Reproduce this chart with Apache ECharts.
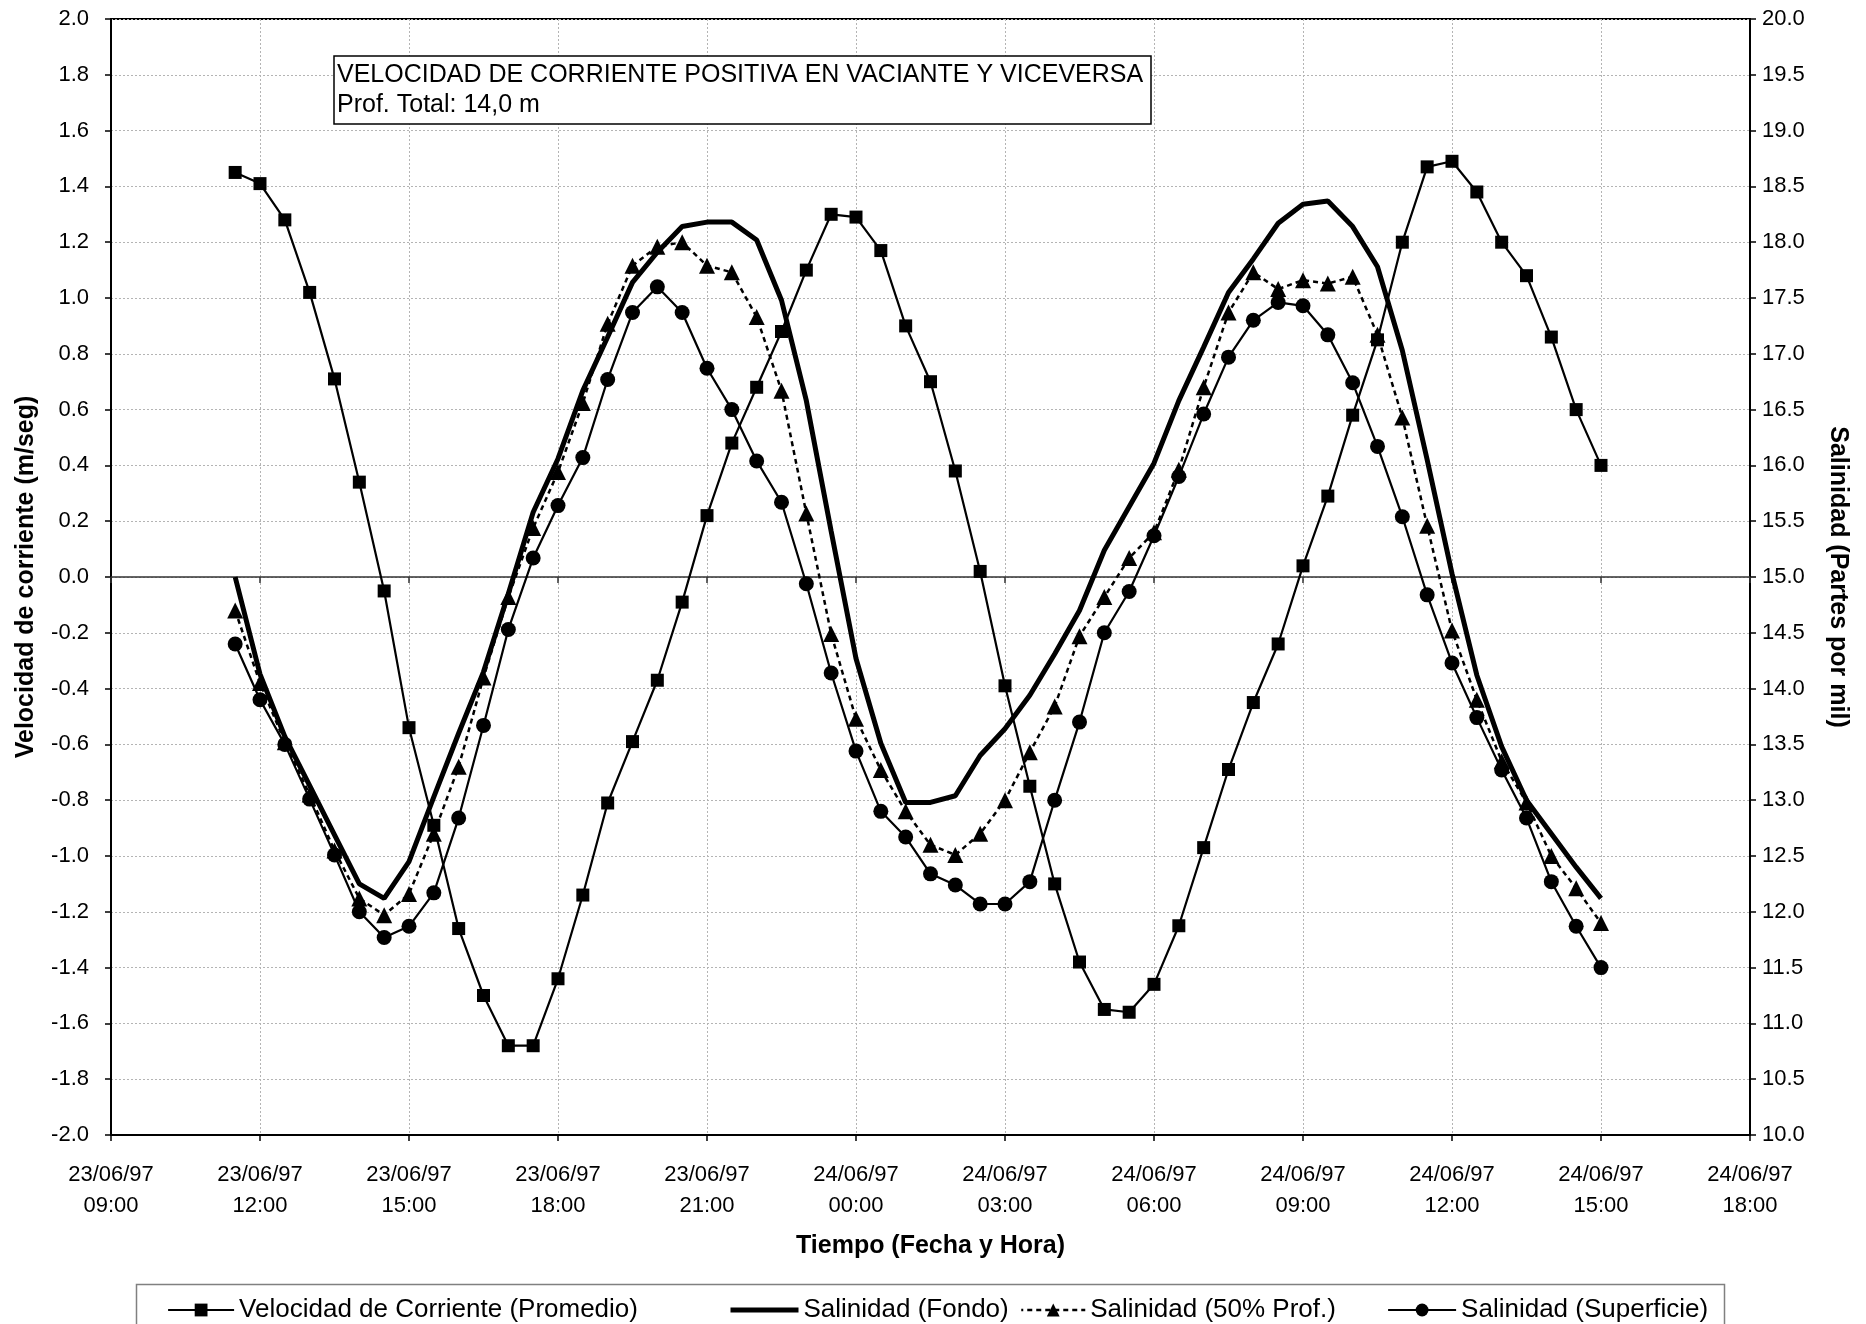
<!DOCTYPE html>
<html>
<head>
<meta charset="utf-8">
<title>Velocidad de corriente y salinidad</title>
<script src="https://cdn.jsdelivr.net/npm/echarts@6/dist/echarts.min.js"></script>
<style>
  html, body { margin: 0; padding: 0; background: #fff; }
  #chart { width: 1866px; height: 1324px; }
</style>
</head>
<body>
<div id="chart"></div>
<script>
// Sampling times (every half hour)
const tiempos = [
  '23/06/97 11:30', '23/06/97 12:00', '23/06/97 12:30', '23/06/97 13:00', '23/06/97 13:30',
  '23/06/97 14:00', '23/06/97 14:30', '23/06/97 15:00', '23/06/97 15:30', '23/06/97 16:00',
  '23/06/97 16:30', '23/06/97 17:00', '23/06/97 17:30', '23/06/97 18:00', '23/06/97 18:30',
  '23/06/97 19:00', '23/06/97 19:30', '23/06/97 20:00', '23/06/97 20:30', '23/06/97 21:00',
  '23/06/97 21:30', '23/06/97 22:00', '23/06/97 22:30', '23/06/97 23:00', '23/06/97 23:30',
  '24/06/97 00:00', '24/06/97 00:30', '24/06/97 01:00', '24/06/97 01:30', '24/06/97 02:00',
  '24/06/97 02:30', '24/06/97 03:00', '24/06/97 03:30', '24/06/97 04:00', '24/06/97 04:30',
  '24/06/97 05:00', '24/06/97 05:30', '24/06/97 06:00', '24/06/97 06:30', '24/06/97 07:00',
  '24/06/97 07:30', '24/06/97 08:00', '24/06/97 08:30', '24/06/97 09:00', '24/06/97 09:30',
  '24/06/97 10:00', '24/06/97 10:30', '24/06/97 11:00', '24/06/97 11:30', '24/06/97 12:00',
  '24/06/97 12:30', '24/06/97 13:00', '24/06/97 13:30', '24/06/97 14:00', '24/06/97 14:30',
  '24/06/97 15:00'
];

// Mean current velocity (m/seg)
const velocidad = [
  1.45, 1.41, 1.28, 1.02, 0.71, 0.34, -0.05, -0.54, -0.89, -1.26,
  -1.50, -1.68, -1.68, -1.44, -1.14, -0.81, -0.59, -0.37, -0.09, 0.22,
  0.48, 0.68, 0.88, 1.10, 1.30, 1.29, 1.17, 0.90, 0.70, 0.38,
  0.02, -0.39, -0.75, -1.10, -1.38, -1.55, -1.56, -1.46, -1.25, -0.97,
  -0.69, -0.45, -0.24, 0.04, 0.29, 0.58, 0.85, 1.20, 1.47, 1.49,
  1.38, 1.20, 1.08, 0.86, 0.60, 0.40
];

// Salinity near the bottom (partes por mil)
const salFondo = [
  15.00, 14.13, 13.57, 13.13, 12.69, 12.25, 12.12, 12.45, 13.03, 13.60,
  14.15, 14.85, 15.58, 16.06, 16.67, 17.15, 17.64, 17.91, 18.14, 18.18,
  18.18, 18.02, 17.48, 16.58, 15.41, 14.27, 13.51, 12.98, 12.98, 13.04,
  13.40, 13.64, 13.94, 14.31, 14.70, 15.24, 15.63, 16.02, 16.58, 17.06,
  17.55, 17.85, 18.17, 18.34, 18.37, 18.14, 17.78, 17.03, 16.05, 15.03,
  14.12, 13.48, 13.00, 12.70, 12.40, 12.12
];

// Salinity at half depth
const salMedia = [
  14.70, 14.05, 13.52, 13.05, 12.55, 12.12, 11.97, 12.16, 12.70, 13.30,
  14.10, 14.82, 15.44, 15.94, 16.56, 17.27, 17.79, 17.96, 18.00, 17.79,
  17.73, 17.33, 16.67, 15.57, 14.49, 13.73, 13.27, 12.90, 12.60, 12.51,
  12.70, 13.00, 13.43, 13.84, 14.47, 14.82, 15.17, 15.40, 15.96, 16.70,
  17.37, 17.73, 17.58, 17.66, 17.63, 17.69, 17.17, 16.43, 15.46, 14.52,
  13.90, 13.35, 12.98, 12.50, 12.21, 11.90
];

// Salinity at the surface
const salSuperficie = [
  14.40, 13.90, 13.50, 13.01, 12.51, 12.00, 11.77, 11.87, 12.17, 12.84,
  13.67, 14.53, 15.17, 15.64, 16.07, 16.77, 17.37, 17.60, 17.37, 16.87,
  16.50, 16.04, 15.67, 14.94, 14.14, 13.44, 12.90, 12.67, 12.34, 12.24,
  12.07, 12.07, 12.27, 13.00, 13.70, 14.50, 14.87, 15.37, 15.90, 16.46,
  16.97, 17.30, 17.46, 17.43, 17.17, 16.74, 16.17, 15.54, 14.84, 14.23,
  13.74, 13.27, 12.84, 12.27, 11.87, 11.50
];

// Time axis tick labels (every 3 hours from 23/06/97 09:00)
const etiquetasTiempo = [
  '23/06/97\n09:00', '23/06/97\n12:00', '23/06/97\n15:00', '23/06/97\n18:00',
  '23/06/97\n21:00', '24/06/97\n00:00', '24/06/97\n03:00', '24/06/97\n06:00',
  '24/06/97\n09:00', '24/06/97\n12:00', '24/06/97\n15:00', '24/06/97\n18:00'
];

// Series names, as shown in the legend
const nombres = [
  'Velocidad de Corriente (Promedio)',
  'Salinidad (Fondo)',
  'Salinidad (50% Prof.)',
  'Salinidad (Superficie)'
];

// Hours elapsed since 23/06/97 09:00
function horas(s) {
  const [fecha, hora] = s.split(' ');
  const dia = Number(fecha.split('/')[0]);
  const [hh, mm] = hora.split(':').map(Number);
  return (dia - 23) * 24 + hh + mm / 60 - 9;
}
const x = tiempos.map(horas);
const pares = (vals) => vals.map((v, i) => [x[i], v]);

const FONT = "'Liberation Sans', Arial, sans-serif";
const gridLine = { show: true, lineStyle: { color: '#b4b4b4', type: [2, 2], width: 1 } };

// Plot box in pixels
const PLOT = { left: 111, right: 116, top: 19, bottom: 189 };
const PLOT_H = 1324 - PLOT.top - PLOT.bottom;

// One legend entry per component so each can sit at its own column
const legendCols = [
  { left: 167, width: 66, line: { width: 2.2 }, item: {} },
  { left: 728, width: 68, line: { width: 5 }, item: { opacity: 0 } },
  { left: 1020, width: 64, line: { width: 2.5, type: [5, 4], dashOffset: 3 }, item: {} },
  { left: 1387, width: 68, line: { width: 2.2 }, item: {} }
];
const legends = legendCols.map((c, i) => ({
  left: c.left,
  top: 1297,
  padding: 0,
  itemWidth: c.width,
  itemHeight: 16,
  itemGap: 0,
  textStyle: { fontFamily: FONT, fontSize: 26, color: '#000' },
  data: [{ name: nombres[i], lineStyle: Object.assign({ color: '#000' }, c.line), itemStyle: c.item }]
}));

const chart = echarts.init(document.getElementById('chart'), null, { renderer: 'canvas' });

chart.setOption({
  animation: false,
  backgroundColor: '#fff',
  textStyle: { fontFamily: FONT, color: '#000' },
  title: {
    text: 'VELOCIDAD DE CORRIENTE POSITIVA EN VACIANTE Y VICEVERSA\nProf. Total: 14,0 m',
    left: 334,
    top: 56,
    padding: [4, 8, 4, 3],
    borderColor: '#000',
    borderWidth: 1.5,
    backgroundColor: '#fff',
    textStyle: { fontFamily: FONT, fontSize: 25, fontWeight: 'normal', color: '#000', lineHeight: 30 }
  },
  graphic: [{
    type: 'rect',
    left: 134, top: 1282,
    shape: { width: 1588, height: 41 },
    style: { fill: 'none', stroke: '#808080', lineWidth: 1.5 },
    silent: true
  }],
  grid: Object.assign({
    outerBoundsMode: 'none',
    containLabel: false,
    show: true, borderColor: '#000', borderWidth: 2, backgroundColor: 'transparent'
  }, PLOT),
  legend: legends,
  xAxis: [
    {
      type: 'value',
      min: 0, max: 33, interval: 3,
      position: 'bottom',
      name: 'Tiempo (Fecha y Hora)',
      nameLocation: 'middle',
      nameGap: 99,
      nameTextStyle: { fontFamily: FONT, fontSize: 25, fontWeight: 'bold', color: '#000' },
      axisLine: { show: true, onZero: false, lineStyle: { color: '#000', width: 2 } },
      axisTick: { show: true, length: 6, lineStyle: { color: '#000', width: 1.5 } },
      axisLabel: {
        fontFamily: FONT, fontSize: 22, color: '#000', lineHeight: 31, margin: 24,
        formatter: (v) => etiquetasTiempo[Math.round(v / 3)]
      },
      splitLine: gridLine
    },
    {
      // Time axis line drawn across at zero velocity, with its tick marks
      type: 'value',
      min: 0, max: 33, interval: 3,
      position: 'top',
      offset: -(PLOT_H / 2),
      axisLine: { show: true, onZero: false, lineStyle: { color: '#333', width: 1.5 } },
      axisTick: { show: true, inside: true, length: 6, lineStyle: { color: '#333', width: 1.5 } },
      axisLabel: { show: false },
      splitLine: { show: false }
    }
  ],
  yAxis: [
    {
      type: 'value',
      min: -2, max: 2, interval: 0.2,
      position: 'left',
      name: 'Velocidad de corriente (m/seg)',
      nameLocation: 'middle',
      nameGap: 72,
      nameRotate: 90,
      nameTextStyle: { fontFamily: FONT, fontSize: 25, fontWeight: 'bold', color: '#000' },
      axisLine: { show: true, onZero: false, lineStyle: { color: '#000', width: 2 } },
      axisTick: { show: true, length: 6, lineStyle: { color: '#000', width: 1.5 } },
      axisLabel: { fontFamily: FONT, fontSize: 22, color: '#000', margin: 22,
        formatter: (v) => v.toFixed(1) },
      splitLine: gridLine
    },
    {
      type: 'value',
      min: 10, max: 20, interval: 0.5,
      position: 'right',
      name: 'Salinidad (Partes por mil)',
      nameLocation: 'middle',
      nameGap: 75,
      nameRotate: -90,
      nameTextStyle: { fontFamily: FONT, fontSize: 25, fontWeight: 'bold', color: '#000' },
      axisLine: { show: true, onZero: false, lineStyle: { color: '#000', width: 2 } },
      axisTick: { show: true, length: 6, lineStyle: { color: '#000', width: 1.5 } },
      axisLabel: { fontFamily: FONT, fontSize: 22, color: '#000', margin: 12,
        formatter: (v) => v.toFixed(1) },
      splitLine: { show: false }
    }
  ],
  series: [
    {
      name: nombres[0],
      type: 'line',
      xAxisIndex: 0,
      yAxisIndex: 0,
      data: pares(velocidad),
      symbol: 'rect',
      symbolSize: 13,
      showAllSymbol: true,
      itemStyle: { color: '#000' },
      lineStyle: { color: '#000', width: 2.2 },
      z: 3
    },
    {
      name: nombres[1],
      type: 'line',
      xAxisIndex: 0,
      yAxisIndex: 1,
      data: pares(salFondo),
      symbol: 'none',
      itemStyle: { color: '#000' },
      lineStyle: { color: '#000', width: 5 },
      z: 4
    },
    {
      name: nombres[2],
      type: 'line',
      xAxisIndex: 0,
      yAxisIndex: 1,
      data: pares(salMedia),
      symbol: 'triangle',
      symbolSize: 16,
      showAllSymbol: true,
      itemStyle: { color: '#000' },
      lineStyle: { color: '#000', width: 2.5, type: [5, 4] },
      z: 5
    },
    {
      name: nombres[3],
      type: 'line',
      xAxisIndex: 0,
      yAxisIndex: 1,
      data: pares(salSuperficie),
      symbol: 'circle',
      symbolSize: 15,
      showAllSymbol: true,
      itemStyle: { color: '#000' },
      lineStyle: { color: '#000', width: 2.2 },
      z: 6
    }
  ]
});
</script>
</body>
</html>
